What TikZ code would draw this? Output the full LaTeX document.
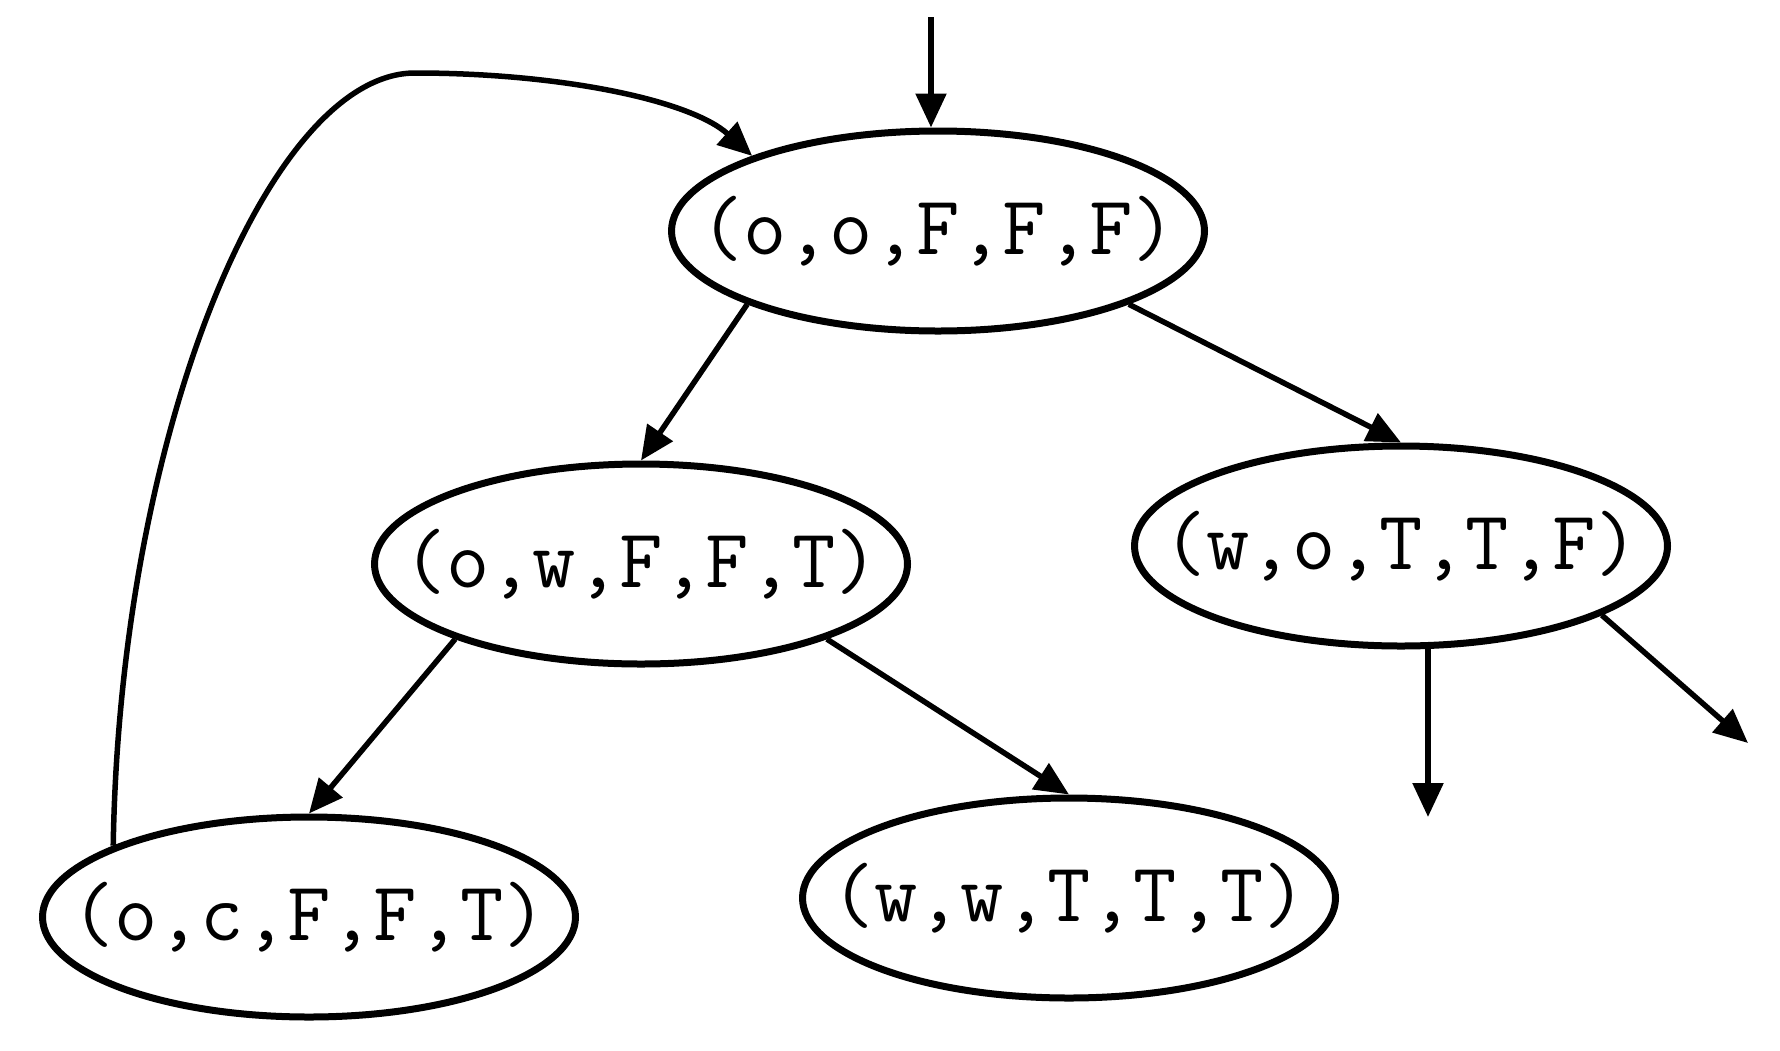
\documentclass[tikz,border=0pt]{standalone}
\usetikzlibrary{arrows.meta,shapes.geometric}
\begin{document}
\begin{tikzpicture}[x=1pt,y=-1pt,
  state/.style={draw,ellipse,line width=7pt,minimum width=533pt,minimum height=200pt,
    inner xsep=-60pt,inner ysep=0pt,
    font=\fontsize{84}{86}\selectfont\ttfamily},
  edge/.style={line width=5.5pt,-{Triangle[length=34pt,width=30pt]}}]
\useasboundingbox (0,0) rectangle (1780,1050);
\node[state] (n1) at (938,231) {(o,o,F,F,F)};
\node[state] (n2) at (641,564) {(o,w,F,F,T)};
\node[state] (n3) at (1401,546) {(w,o,T,T,F)};
\node[state] (n4) at (309,917) {(o,c,F,F,T)};
\node[state] (n5) at (1069,898) {(w,w,T,T,T)};
\coordinate (s0) at (931,17);
\coordinate (d1) at (1428,817);
\coordinate (d2) at (1748,743);
\draw[edge] (s0) -- (s0 |- n1.north);
\draw[edge] (n1.201) -- (n2.north);
\draw[edge] (n1.339) -- (n3.north);
\draw[edge] (n2.202) -- (n4.north);
\draw[edge] (n2.338) -- (n5.north);
\draw[edge] (d1 |- n3.285) -- (d1);
\draw[edge] (n3.341) -- (d2);
\draw[edge] (n4.160) .. controls (120,430) and (270,73) .. (415,73)
  .. controls (560,73) and (690,100) .. (n1.158);
\end{tikzpicture}
\end{document}
